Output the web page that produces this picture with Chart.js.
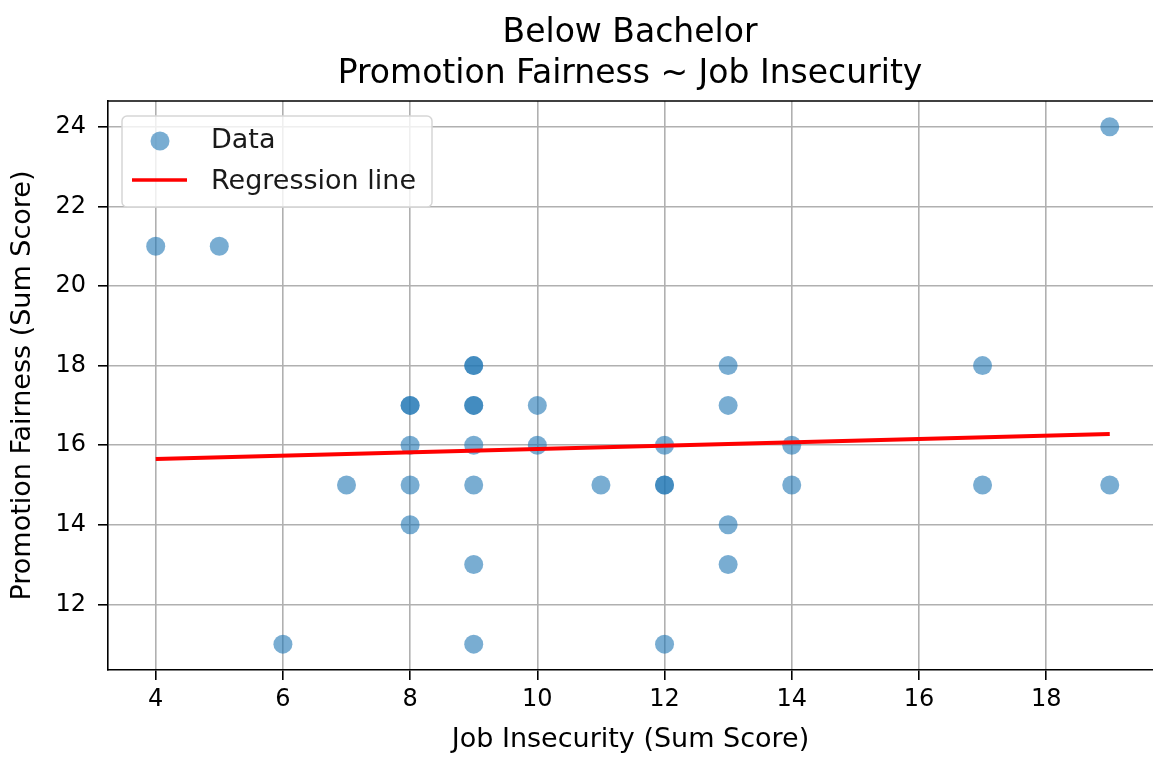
<!DOCTYPE html>
<html>
<head>
<meta charset="utf-8">
<script src="https://cdn.jsdelivr.net/npm/chart.js@4/dist/chart.umd.min.js"></script>
<style>
  body { margin: 0; background: #ffffff; }
  #box { width: 1153px; height: 758px; }
</style>
</head>
<body>
<div id="box"><canvas id="scatterChart" width="1153" height="758"></canvas></div>
<script>
// points (repeated pairs = darker overlapping dots)
const jobInsecurity = [4, 5, 6, 7, 8, 8, 8, 8, 8, 9, 9, 9, 9, 9, 9, 9, 9, 10, 10, 11, 12, 12, 12, 12, 13, 13, 13, 13, 14, 14, 17, 17, 19, 19]
const promotionFairness = [21, 21, 11, 15, 17, 17, 16, 15, 14, 18, 18, 17, 17, 16, 15, 13, 11, 17, 16, 15, 16, 15, 15, 11, 18, 17, 14, 13, 16, 15, 18, 15, 24, 15]

// regression line end points
const lineX = [4, 19]
const lineY = [15.65, 16.28]

const xTicks = [4, 6, 8, 10, 12, 14, 16, 18]
const yTicks = [12, 14, 16, 18, 20, 22, 24]

const titleLines = ['Below Bachelor', 'Promotion Fairness ~ Job Insecurity']
const FONT = "'DejaVu Sans', sans-serif"

const frame = {
  id: 'frame',
  afterDraw(chart) {
    const ctx = chart.ctx
    const a = chart.chartArea
    ctx.save()
    // top spine
    ctx.strokeStyle = '#000000'
    ctx.lineWidth = 1.6
    ctx.beginPath()
    ctx.moveTo(a.left, a.top)
    ctx.lineTo(a.right, a.top)
    ctx.stroke()

    // title
    ctx.fillStyle = '#000000'
    ctx.font = '33px ' + FONT
    ctx.textAlign = 'center'
    ctx.textBaseline = 'middle'
    const cx = 630
    ctx.fillText(titleLines[0], cx, 33)
    ctx.fillText(titleLines[1], cx, 74)

    // legend box
    const lx = 122, ly = 116, lw = 310, lh = 91, r = 5
    ctx.beginPath()
    ctx.moveTo(lx + r, ly)
    ctx.arcTo(lx + lw, ly, lx + lw, ly + lh, r)
    ctx.arcTo(lx + lw, ly + lh, lx, ly + lh, r)
    ctx.arcTo(lx, ly + lh, lx, ly, r)
    ctx.arcTo(lx, ly, lx + lw, ly, r)
    ctx.closePath()
    ctx.fillStyle = 'rgba(255,255,255,0.8)'
    ctx.fill()
    ctx.strokeStyle = '#d6d6d6'
    ctx.lineWidth = 1.5
    ctx.stroke()

    const ds = chart.data.datasets
    ctx.fillStyle = 'rgba(31,119,180,0.6)'
    ctx.beginPath()
    ctx.arc(160, 141, 9.5, 0, Math.PI * 2)
    ctx.fill()
    ctx.strokeStyle = '#ff0000'
    ctx.lineWidth = 3.5
    ctx.beginPath()
    ctx.moveTo(132, 180)
    ctx.lineTo(187, 180)
    ctx.stroke()

    ctx.fillStyle = '#1a1a1a'
    ctx.font = '27px ' + FONT
    ctx.textAlign = 'left'
    ctx.fillText(ds[0].label, 211, 141)
    ctx.fillText(ds[1].label, 211, 182)
    ctx.restore()
  }
}

window.addEventListener('load', function () {
  const ctx = document.getElementById('scatterChart').getContext('2d')
  window.scatterChart = new Chart(ctx, {
    type: 'scatter',
    data: {
      datasets: [
        {
          label: 'Data',
          data: jobInsecurity.map((x, i) => ({ x: x, y: promotionFairness[i] })),
          backgroundColor: 'rgba(31,119,180,0.6)',
          borderWidth: 0,
          pointRadius: 9.5,
          pointHoverRadius: 9.5,
          order: 2
        },
        {
          type: 'line',
          label: 'Regression line',
          data: lineX.map((x, i) => ({ x: x, y: lineY[i] })),
          borderColor: '#ff0000',
          borderWidth: 4,
          pointRadius: 0,
          fill: false,
          order: 1
        }
      ]
    },
    options: {
      responsive: false,
      animation: false,
      layout: { autoPadding: false, padding: { top: 101, right: 0, left: 0, bottom: 0 } },
      plugins: {
        legend: { display: false },
        title: { display: false },
        tooltip: { enabled: false }
      },
      scales: {
        x: {
          type: 'linear',
          min: 3.25,
          max: 19.68,
          afterBuildTicks: s => { s.ticks = xTicks.map(v => ({ value: v })) },
          afterFit: s => { s.height = 88; s.paddingLeft = 0; s.paddingRight = 0 },
          grid: { color: '#b0b0b0', lineWidth: 1.6, tickColor: '#000000', tickLength: 10, tickWidth: 1.6 },
          border: { color: '#000000', width: 1.6 },
          ticks: { color: '#000000', font: { family: FONT, size: 24 }, padding: 5, maxRotation: 0 },
          title: { display: true, text: 'Job Insecurity (Sum Score)', color: '#000000', font: { family: FONT, size: 27 }, padding: { top: 0, bottom: 2 } }
        },
        y: {
          type: 'linear',
          min: 10.35,
          max: 24.65,
          afterBuildTicks: s => { s.ticks = yTicks.map(v => ({ value: v })) },
          afterFit: s => { s.width = 108; s.paddingTop = 0; s.paddingBottom = 0 },
          grid: { color: '#b0b0b0', lineWidth: 1.6, tickColor: '#000000', tickLength: 10, tickWidth: 1.6 },
          border: { color: '#000000', width: 1.6 },
          ticks: { color: '#000000', font: { family: FONT, size: 24 }, padding: 12 },
          title: { display: true, text: 'Promotion Fairness (Sum Score)', color: '#000000', font: { family: FONT, size: 27 }, padding: { top: 7, bottom: 0 } }
        }
      }
    },
    plugins: [frame]
  })
  return window.scatterChart
})
</script>
</body>
</html>
